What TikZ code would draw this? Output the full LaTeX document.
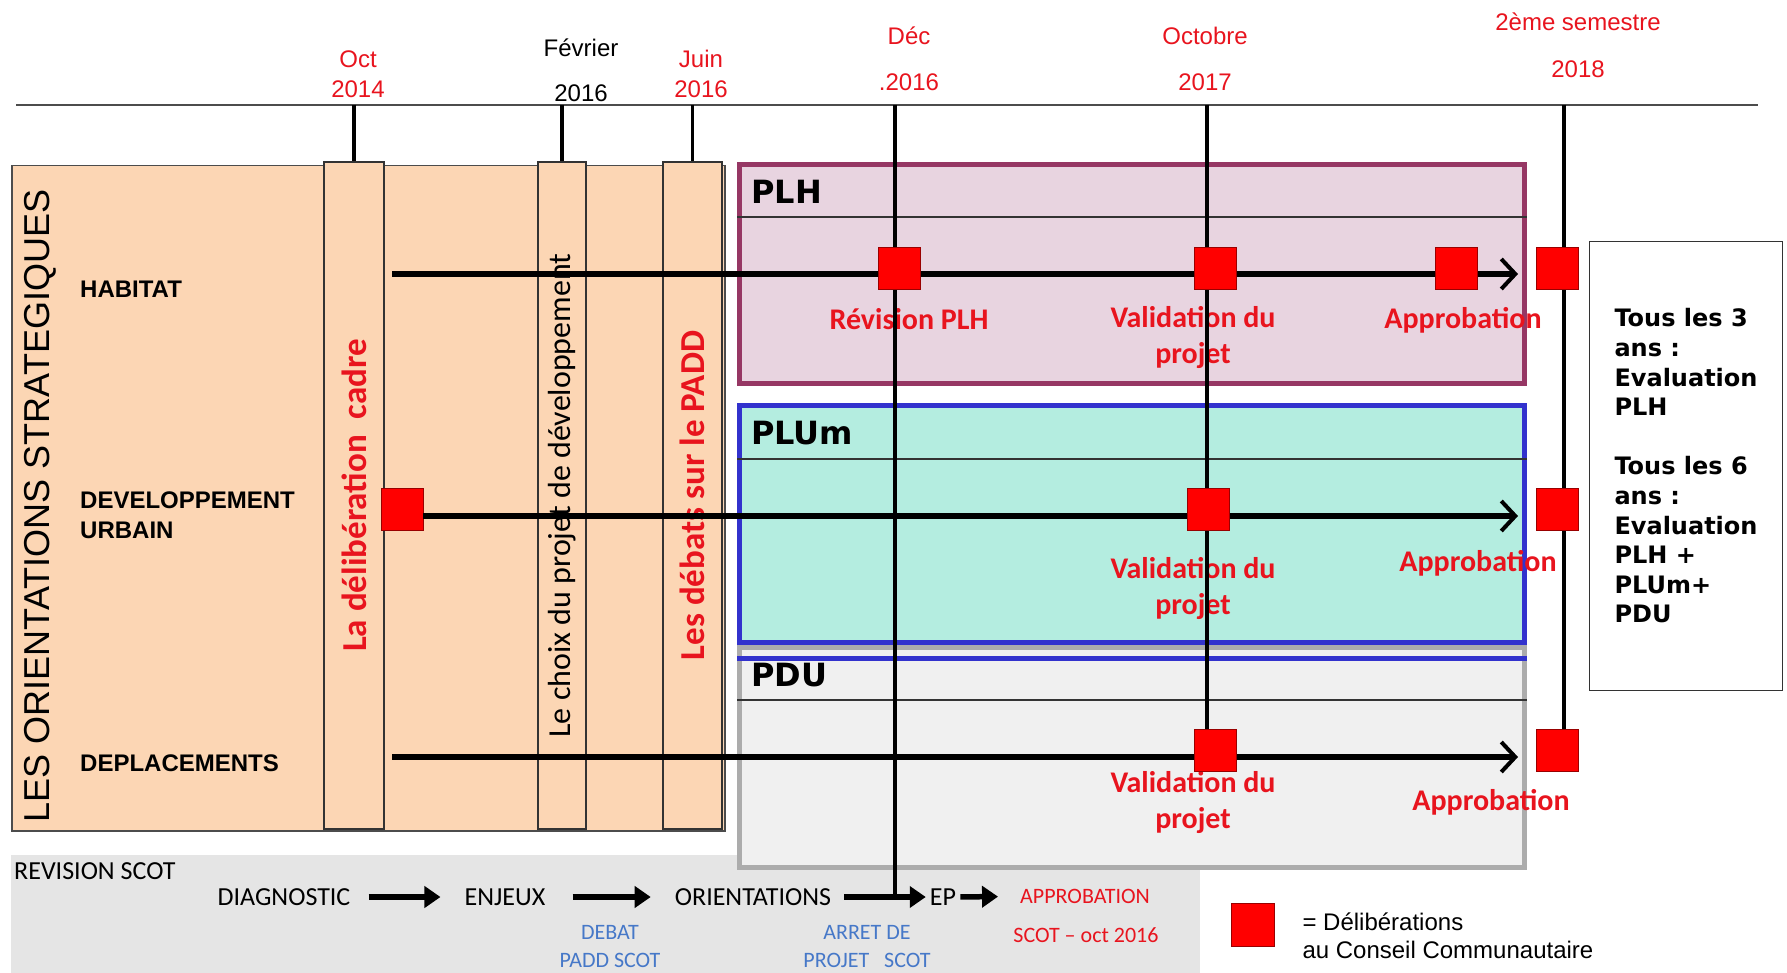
\documentclass[tikz,border=0pt]{standalone}
\usepackage{fontspec}
\setmainfont{Liberation Sans}
\newfontfamily\carlito{Carlito}
\newfontfamily\dejavu{DejaVu Sans}
\usetikzlibrary{arrows.meta}
\definecolor{peach}{RGB}{252,214,180}
\definecolor{plhfill}{RGB}{232,212,224}
\definecolor{plhline}{RGB}{150,55,100}
\definecolor{plufill}{RGB}{180,237,224}
\definecolor{pluline}{RGB}{50,50,205}
\definecolor{pdufill}{RGB}{240,240,240}
\definecolor{pduline}{RGB}{172,172,172}
\definecolor{scotfill}{RGB}{229,229,229}
\definecolor{datered}{RGB}{232,20,30}
\definecolor{scotblue}{RGB}{70,120,200}
\newcommand{\fsz}[2]{\fontsize{#1}{#2}\selectfont}

\begin{document}
\begin{tikzpicture}[x=1pt, y=-1pt,
  panel/.style={draw, rectangle, anchor=north west, inner sep=0pt},
  colbox/.style={draw=black!80, fill=peach, line width=1.5pt, minimum height=667pt, inner sep=0pt},
  deliberation/.style={draw=red!60!black, fill=red, minimum size=42pt, inner sep=0pt, line width=0.6pt},
  datelabel/.style={align=center, text=datered, font=\fsz{24}{30}},
  tickline/.style={line width=3.2pt},
  headline/.style={line width=1.2pt, black!80},
  rowarrow/.style={line width=6.5pt, -{Straight Barb[length=14pt,width=30pt,line width=4pt]}},
  rowlabel/.style={anchor=west, inner sep=0pt, font=\bfseries\fsz{24}{30}},
  paneltitle/.style={anchor=west, inner sep=0pt, font=\dejavu\bfseries\fsz{32}{38}},
  redlabel/.style={align=center, text=datered, font=\carlito\bfseries\fsz{30}{36}},
  scot/.style={inner sep=0pt, font=\carlito\fsz{26}{32}},
  scotsub/.style={inner sep=0pt, align=center, font=\carlito\fsz{22}{28}},
  scotarrow/.style={line width=5.5pt, -{Triangle[length=16pt,width=21pt]}}]
\useasboundingbox (0,0) rectangle (1787,973);

\coordinate (tl) at (16,105);
\coordinate (tr) at (1758,105);
\coordinate (dec) at (895,105);
\coordinate (oct) at (1207,105);
\coordinate (sem) at (1564,105);
\coordinate (hab-s) at (392,274);
\coordinate (hab-e) at (1518,274);
\coordinate (dev-e) at (1518,516);
\coordinate (depl-s) at (392,757);
\coordinate (depl-e) at (1518,757);

\draw[black!70, line width=1.5pt] (tl) -- (tr);

\node (oct14) [datelabel] at (358,74) {Oct\\2014};
\node (fev16) [datelabel, text=black, font=\fsz{24}{45}] at (581,70) {Février\\2016};
\node (juin16) [datelabel] at (701,74) {Juin\\2016};
\node (dec16) [datelabel, font=\fsz{24}{46}] at (909,59) {Déc\\.2016};
\node (oct17) [datelabel, font=\fsz{24}{46}] at (1205,59) {Octobre\\2017};
\node (sem18) [datelabel, font=\fsz{24}{47}] at (1578,45) {2ème semestre\\2018};

\node (orient) [panel, fill=peach, draw=black!70, line width=1.5pt, minimum width=713pt, minimum height=665pt] at (11,165) {};
\node (delib) [colbox, minimum width=60pt] at (354,495.5) {};
\node (choix) [colbox, minimum width=48pt] at (562,495.5) {};
\node (padd) [colbox, minimum width=59pt] at (692.5,495.5) {};
\draw[tickline] (delib.north |- tl) -- (delib.north);
\draw[tickline] (choix.north |- tl) -- (choix.north);
\draw[tickline] (padd.north |- tl) -- (padd.north);

\node (delibtxt) [rotate=90, text=datered, font=\carlito\bfseries\fsz{35}{40}] at (delib) {La délibération\ \ cadre};
\node (choixtxt) [rotate=90, font=\carlito\fsz{32}{38}] at (choix) {Le choix du projet de développement};
\node (paddtxt) [rotate=90, text=datered, font=\carlito\bfseries\fsz{35}{40}] at (padd) {Les débats sur le PADD};

\node (orienttxt) [rotate=90, font=\fsz{36}{40}] at (40,506) {LES ORIENTATIONS STRATEGIQUES};
\node (habitat) [rowlabel] at (80,289) {HABITAT};
\node (devurb) [rowlabel, align=left] at (80,515) {DEVELOPPEMENT\\URBAIN};
\node (depl) [rowlabel] at (80,763) {DEPLACEMENTS};

\node (scot) [panel, draw=none, fill=scotfill, minimum width=1189pt, minimum height=120pt] at (11,855) {};

\node (plh) [panel, draw=plhline, fill=plhfill, line width=5pt, minimum width=785pt, minimum height=219pt] at (737,162) {};
\draw[headline] ([yshift=-55pt]plh.north west) -- ([yshift=-55pt]plh.north east);
\node (plhtitle) [paneltitle] at (751,192) {PLH};

\node (plu) [panel, draw=pluline, fill=plufill, line width=5pt, minimum width=785pt, minimum height=237pt] at (737,403) {};
\draw[headline] ([yshift=-56pt]plu.north west) -- ([yshift=-56pt]plu.north east);
\node (plutitle) [paneltitle] at (751,433) {PLUm};

\node (pdu) [panel, draw=pduline, fill=pdufill, line width=5pt, minimum width=785pt, minimum height=220pt] at (737,645) {};
\draw[pluline, line width=5pt] ([yshift=-13.5pt]pdu.north west) -- ([yshift=-13.5pt]pdu.north east);
\draw[headline] ([yshift=-55pt]pdu.north west) -- ([yshift=-55pt]pdu.north east);
\node (pdutitle) [paneltitle] at (751,675) {PDU};

\node (evalbox) [draw=black!80, line width=1.2pt, minimum width=193pt, minimum height=449pt, align=left, font=\dejavu\bfseries\fsz{24}{29.6}] at (1686,466) {Tous les 3\\ans :\\Evaluation\\PLH\\[29.6pt]Tous les 6\\ans :\\Evaluation\\PLH +\\PLUm+\\PDU};

\node (revplh) [redlabel] at (909,319) {Révision PLH};
\node (valplh) [redlabel] at (1193,337) {Validation du\\projet};
\node (appplh) [redlabel] at (1463,320) {Approbation};
\node (valplu) [redlabel] at (1193,588) {Validation du\\projet};
\node (appplu) [redlabel] at (1478,563) {Approbation};
\node (valpdu) [redlabel] at (1193,802) {Validation du\\projet};
\node (apppdu) [redlabel] at (1491,802) {Approbation};

\node (revscot) [scot, anchor=west] at (14,871) {REVISION SCOT};
\node (diag) [scot] at (284,897) {DIAGNOSTIC};
\node (enjeux) [scot] at (505,897) {ENJEUX};
\node (orientscot) [scot] at (753,897) {ORIENTATIONS};
\node (ep) [scot] at (943,897) {EP};
\node (approscot) [scotsub, text=datered] at (1085,896) {APPROBATION};
\node (scotoct) [scotsub, text=datered] at (1086,935) {SCOT – oct 2016};
\node (debat) [scotsub, text=scotblue] at (610,947) {DEBAT\\PADD SCOT};
\node (arret) [scotsub, text=scotblue] at (867,947) {ARRET DE\\PROJET\ \ \ SCOT};
\draw[scotarrow, shorten <=18pt, shorten >=24pt] (diag) -- (enjeux);
\draw[scotarrow, shorten <=27pt, shorten >=24pt] (enjeux) -- (orientscot);
\draw[scotarrow, shorten <=13pt, shorten >=4pt] (orientscot) -- (ep);
\draw[scotarrow, shorten <=4pt, shorten >=22pt] (ep) -- (approscot);

\draw[rowarrow] (hab-s) -- (hab-e);
\draw[rowarrow] (depl-s) -- (depl-e);

\draw[tickline] (dec) -- (dec |- ep);
\draw[tickline] (oct) -- (oct |- depl-e);
\draw[tickline] (sem) -- (sem |- depl-e);

\node (h1) [deliberation] at (899,268) {};
\node (h2) [deliberation] at (1215,268) {};
\node (h3) [deliberation] at (1456,268) {};
\node (h4) [deliberation] at (1557,268) {};
\node (d0) [deliberation] at (402,509) {};
\draw[rowarrow] (d0.east |- dev-e) -- (dev-e);
\node (d1) [deliberation] at (1208,509) {};
\node (d2) [deliberation] at (1557,509) {};
\node (p1) [deliberation] at (1215,750) {};
\node (p2) [deliberation] at (1557,750) {};

\node (legsq) [deliberation, minimum size=43pt] at (1253,925) {};
\node (legtxt) [anchor=west, align=left, font=\fsz{24}{28}] at (1299,936) {= Délibérations\\au Conseil Communautaire};
\end{tikzpicture}
\end{document}
